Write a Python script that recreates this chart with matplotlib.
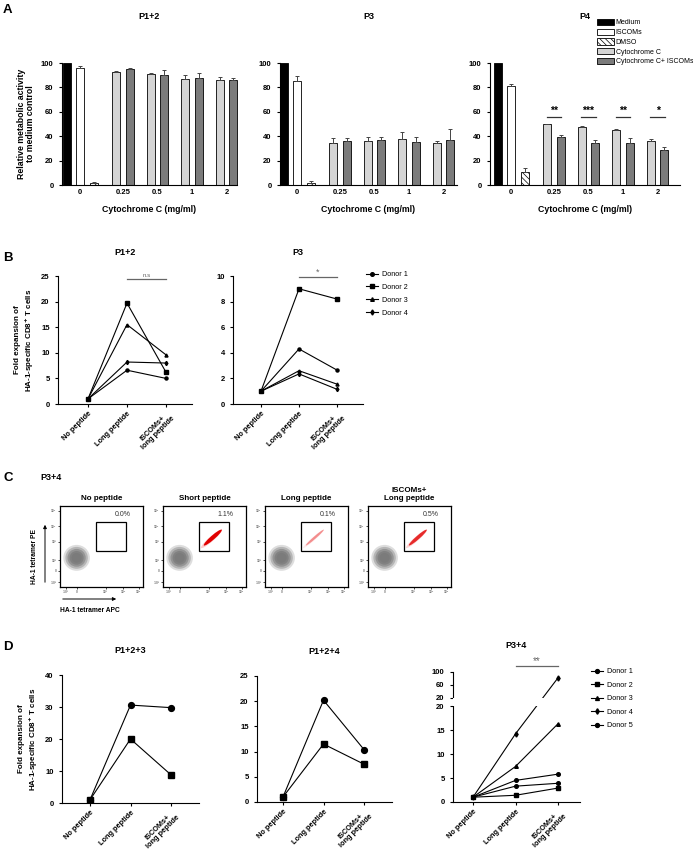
import matplotlib

matplotlib.use("Agg")
import matplotlib.pyplot as plt
import matplotlib.transforms as mtransforms
import numpy as np
from matplotlib.lines import Line2D
from matplotlib.patches import Ellipse, Patch, Rectangle

W, H = 693, 849

# ---- panel A: metabolic activity (mean, upward SEM) ----
A_TITLES = ["P1+2", "P3", "P4"]
A_DOSES = ["0", "0.25", "0.5", "1", "2"]
A_CTRL_NAMES = ["Medium", "ISCOMs", "DMSO"]
A_CTRL = [[100, 95.5, 2.0], [100, 85.5, 2.0], [100, 81.5, 10.4]]
A_CTRL_ERR = [[0, 2.0, 0.8], [0, 4.0, 1.0], [0, 1.0, 3.3]]
A_CYTO = [[93.0, 90.6, 86.6, 86.2], [34.8, 36.4, 37.6, 34.8], [49.6, 47.2, 44.9, 35.8]]
A_CYTO_ERR = [[0.5, 1.0, 3.5, 2.0], [3.5, 3.0, 5.5, 1.6], [0.5, 1.5, 0.7, 1.6]]
A_CYTO_ISC = [[95.3, 90.0, 87.7, 86.2], [35.8, 36.9, 35.2, 36.9], [39.4, 34.7, 34.7, 28.4]]
A_CYTO_ISC_ERR = [[1.0, 4.5, 4.2, 1.5], [2.5, 2.8, 4.5, 9.0], [1.3, 2.0, 3.8, 2.7]]
A_P4_STARS = ["**", "***", "**", "*"]

# ---- panel B: fold expansion per donor ----
CATS = ["No peptide", "Long peptide", "ISCOMs+\nlong peptide"]
B_DONORS = ["Donor 1", "Donor 2", "Donor 3", "Donor 4"]
B_P12 = [[1, 6.6, 5.0], [1, 19.7, 6.2], [1, 15.5, 9.6], [1, 8.2, 8.0]]
B_P3 = [[1, 4.3, 2.65], [1, 9.0, 8.2], [1, 2.6, 1.55], [1, 2.35, 1.15]]

# ---- panel C: tetramer staining ----
C_TITLES = ["No peptide", "Short peptide", "Long peptide", "ISCOMs+\nLong peptide"]
C_PERCENT = [0.0, 1.1, 0.1, 0.5]

# ---- panel D ----
D_P123 = [[1, 30.6, 29.8], [1, 20.0, 8.8]]
D_P124 = [[1, 20.2, 10.4], [1, 11.5, 7.5]]
D_DONORS = ["Donor 1", "Donor 2", "Donor 3", "Donor 4", "Donor 5"]
D_P34 = [[1, 4.5, 5.8], [1, 1.4, 2.9], [1, 7.4, 16.3], [1, 14.2, 82.0], [1, 3.3, 3.9]]

plt.rcParams.update(
    {
        "font.family": ["Liberation Sans", "DejaVu Sans"],
        "font.weight": "bold",
        "axes.labelweight": "bold",
        "axes.linewidth": 0.8,
        "xtick.major.width": 0.8,
        "ytick.major.width": 0.8,
        "xtick.major.size": 2.5,
        "ytick.major.size": 2.5,
        "xtick.labelsize": 5.5,
        "ytick.labelsize": 5.5,
        "hatch.linewidth": 0.5,
    }
)

fig = plt.figure(figsize=(W / 100, H / 100), dpi=100)


def px_axes(x0, y0, x1, y1):
    return fig.add_axes([x0 / W, 1 - y1 / H, (x1 - x0) / W, (y1 - y0) / H])


def ftext(x, y, s, **kw):
    fig.text(x / W, 1 - y / H, s, **kw)


def clean(ax):
    ax.spines["top"].set_visible(False)
    ax.spines["right"].set_visible(False)


# ================= A =================
ftext(3, 10, "A", fontsize=9.5, ha="left", va="center")
a_boxes = [(62, 63, 237, 185), (280, 63, 457, 185), (490, 63, 680, 185)]
a_first = [67, 284, 498]
step = 13.3
ctrl_x = np.array([0, 1, 2])
pair_x = np.array([3.7 + 2.6 * k for k in range(4)])
bw = 0.6
err_kw = dict(ecolor="#444444", elinewidth=0.7, capsize=1.6, capthick=0.7)
for i, box in enumerate(a_boxes):
    ax = px_axes(*box)
    clean(ax)
    styles = [
        dict(color="black", edgecolor="black"),
        dict(color="white", edgecolor="black"),
        dict(color="white", edgecolor="black", hatch="\\\\\\\\\\\\"),
    ]
    for j in range(3):
        ax.bar(ctrl_x[j], A_CTRL[i][j], bw, linewidth=0.6,
               yerr=[[0], [A_CTRL_ERR[i][j]]] if A_CTRL_ERR[i][j] else None,
               error_kw=err_kw, **styles[j])
    ax.bar(pair_x, A_CYTO[i], bw, color="#d4d4d4", edgecolor="black", linewidth=0.6,
           yerr=[[0] * 4, A_CYTO_ERR[i]], error_kw=err_kw)
    ax.bar(pair_x + 1, A_CYTO_ISC[i], bw, color="#7b7b7b", edgecolor="black", linewidth=0.6,
           yerr=[[0] * 4, A_CYTO_ISC_ERR[i]], error_kw=err_kw)
    ax.set_ylim(0, 100)
    x0, _, x1, _ = box
    ax.set_xlim((x0 - a_first[i]) / step, (x1 - a_first[i]) / step)
    ax.set_yticks(range(0, 101, 20))
    ax.set_xticks([1] + list(pair_x + 0.5), A_DOSES)
    ax.tick_params(axis="x", length=0, pad=3)
    ax.set_xlabel("Cytochrome C (mg/ml)", fontsize=6.3, labelpad=6)
    ax.set_title(A_TITLES[i], fontsize=6.5, fontweight="bold", pad=32)
    if i == 0:
        ax.set_ylabel("Relative metabolic activity\nto medium control", fontsize=6.3, labelpad=4,
                      linespacing=1.1)
    if i == 2:
        for k, stars in enumerate(A_P4_STARS):
            ax.plot([pair_x[k] - 0.05, pair_x[k] + 1.05], [56, 56], color="#333333", lw=0.9)
            ax.text(pair_x[k] + 0.5, 57.0, stars, ha="center", va="bottom", fontsize=7.5)
    for c in ax.get_children():
        try:
            c.set_clip_on(False)
        except Exception:
            pass

a_handles = [
    Patch(facecolor="black", edgecolor="black", linewidth=0.6),
    Patch(facecolor="white", edgecolor="black", linewidth=0.6),
    Patch(facecolor="white", edgecolor="black", hatch="\\\\\\\\\\\\", linewidth=0.6),
    Patch(facecolor="#d4d4d4", edgecolor="black", linewidth=0.6),
    Patch(facecolor="#7b7b7b", edgecolor="black", linewidth=0.6),
]
fig.legend(a_handles, A_CTRL_NAMES + ["Cytochrome C", "Cytochrome C+ ISCOMs"],
           loc="upper left", bbox_to_anchor=(597 / W, 1 - 19 / H), frameon=False,
           prop={"size": 5, "weight": "normal"}, handlelength=2.4, handleheight=1.0,
           labelspacing=0.32, handletextpad=0.3, borderpad=0, borderaxespad=0)


def fold_axes(box, first, stp, ymax, yticks):
    ax = px_axes(*box)
    clean(ax)
    x0, _, x1, _ = box
    ax.set_xlim((x0 - first) / stp, (x1 - first) / stp)
    ax.set_ylim(0, ymax)
    ax.set_yticks(yticks)
    ax.set_xticks(range(3))
    ax.set_xticklabels(CATS, rotation=45, ha="right", rotation_mode="anchor",
                       fontsize=5.3, multialignment="center", linespacing=1.0)
    ax.tick_params(axis="x", pad=2)
    return ax


B_MARKERS = ["o", "s", "^", "d"]
D_MARKERS = ["o", "s", "^", "d", "o"]
ylab = "Fold expansion of\nHA-1-specific CD8$^{+}$ T cells"

# ================= B =================
ftext(3, 258, "B", fontsize=9.5, ha="left", va="center")
ax = fold_axes((58, 276, 192, 404), 88, 39, 25, range(0, 26, 5))
for vals, m in zip(B_P12, B_MARKERS):
    ax.plot(range(3), vals, color="black", lw=0.8, marker=m, ms=2.2)
ax.set_title("P1+2", fontsize=6.5, fontweight="bold", pad=15)
ax.set_ylabel(ylab, fontsize=5.8, labelpad=4, linespacing=1.1)
ax.plot([1, 2], [24.4, 24.4], color="#666666", lw=0.9, clip_on=False)
ax.text(1.5, 24.7, "n.s", ha="center", va="bottom", fontsize=4.5, color="#666666",
        fontweight="normal")

ax = fold_axes((233, 276, 363, 404), 261, 38, 10, range(0, 11, 2))
for vals, m in zip(B_P3, B_MARKERS):
    ax.plot(range(3), vals, color="black", lw=0.8, marker=m, ms=2.2)
ax.set_title("P3", fontsize=6.5, fontweight="bold", pad=15)
ax.plot([1, 2], [9.92, 9.92], color="#666666", lw=0.9, clip_on=False)
ax.text(1.5, 9.98, "*", ha="center", va="bottom", fontsize=6.5, color="#666666",
        fontweight="normal")

b_handles = [Line2D([], [], color="black", lw=0.8, marker=m, ms=2.6) for m in B_MARKERS]
fig.legend(b_handles, B_DONORS, loc="upper left", bbox_to_anchor=(366 / W, 1 - 271 / H),
           frameon=False, prop={"size": 5.2, "weight": "normal"}, handlelength=1.6,
           labelspacing=0.8, handletextpad=0.6, borderpad=0, borderaxespad=0)

# ================= C =================
ftext(3, 478, "C", fontsize=9.5, ha="left", va="center")
ftext(40, 478, "P3+4", fontsize=6.5, ha="left", va="center")
c_left = [60, 163, 265, 368]
for i, xl in enumerate(c_left):
    ax = px_axes(xl, 506, xl + 83, 587)
    ax.set_xlim(0, 1)
    ax.set_ylim(0, 1)
    for sp in ax.spines.values():
        sp.set_linewidth(0.9)
    ax.set_xticks([0.07, 0.2, 0.55, 0.76, 0.95], ["-10³", "0", "10³", "10⁴", "10⁵"])
    ax.set_yticks([0.06, 0.2, 0.33, 0.56, 0.75, 0.94],
                  ["-10²", "0", "10²", "10³", "10⁴", "10⁵"])
    ax.tick_params(length=1.5, width=0.5, labelsize=2.3, labelcolor="#777777", pad=1)
    for k in range(5):
        ax.add_patch(Ellipse((0.2, 0.36), 0.32 - 0.05 * k, 0.32 - 0.05 * k,
                             color="#7a7a7a", alpha=0.25 + 0.15 * k, lw=0))
    ax.add_patch(Rectangle((0.43, 0.44), 0.37, 0.36, fill=False, lw=0.9, ec="black"))
    pct = C_PERCENT[i]
    if pct > 0:
        strength = min(1.0, 0.3 + pct)
        ax.add_patch(Ellipse((0.585, 0.595), 0.34, 0.03 + 0.03 * strength, angle=42,
                             color="#ff9a9a", alpha=0.5 * strength, lw=0))
        ax.add_patch(Ellipse((0.6, 0.61), 0.29, 0.015 + 0.035 * strength, angle=42,
                             color="#e00000", alpha=strength, lw=0))
    ax.text(0.85, 0.9, f"{pct:.1f}%", ha="right", va="center", fontsize=5,
            fontweight="normal", color="#333333")
    ax.set_title(C_TITLES[i], fontsize=5.8, fontweight="bold", pad=4, linespacing=1.2)

fig.text(35 / W, 1 - 557 / H, "HA-1 tetramer PE", rotation=90, ha="center", va="center",
         fontsize=4.8)
fig.text(60 / W, 1 - 610 / H, "HA-1 tetramer APC", ha="left", va="center", fontsize=4.8)
fig.add_artist(matplotlib.patches.FancyArrowPatch(
    (45 / W, 1 - 585 / H), (45 / W, 1 - 522 / H), transform=fig.transFigure,
    arrowstyle="-|>", mutation_scale=5, lw=0.7, color="black"))
fig.add_artist(matplotlib.patches.FancyArrowPatch(
    (60 / W, 1 - 599 / H), (119 / W, 1 - 599 / H), transform=fig.transFigure,
    arrowstyle="-|>", mutation_scale=5, lw=0.7, color="black"))

# ================= D =================
ftext(3, 647, "D", fontsize=9.5, ha="left", va="center")
ax = fold_axes((62, 675, 199, 803), 90, 40.5, 40, range(0, 41, 10))
for vals, m in zip(D_P123, ["o", "s"]):
    ax.plot(range(3), vals, color="black", lw=0.8, marker=m, ms=4.2)
ax.set_title("P1+2+3", fontsize=6.5, fontweight="bold", pad=16)
ax.set_ylabel(ylab, fontsize=5.8, labelpad=4, linespacing=1.1)

ax = fold_axes((257, 676, 392, 802), 283, 40.5, 25, range(0, 26, 5))
for vals, m in zip(D_P124, ["o", "s"]):
    ax.plot(range(3), vals, color="black", lw=0.8, marker=m, ms=4.2)
ax.set_title("P1+2+4", fontsize=6.5, fontweight="bold", pad=16)

# broken y axis: 0-20 linear, then 20-100 compressed
GAP, K = 1.67, 0.0677


def fwd(v):
    v = np.asarray(v, dtype=float)
    return np.where(v <= 20, v, 20 + GAP + (v - 20) * K)


def inv(u):
    u = np.asarray(u, dtype=float)
    return np.where(u <= 20, u, np.where(u < 20 + GAP, 20, 20 + (u - 20 - GAP) / K))


ax = px_axes(453, 672, 580, 802)
clean(ax)
ax.set_yscale("function", functions=(fwd, inv))
ax.set_xlim((453 - 473) / 42.5, (580 - 473) / 42.5)
ax.set_ylim(0, 100)
ax.set_yticks([0, 5, 10, 15, 20, 20.001, 60, 100], ["0", "5", "10", "15", "20", "20", "60", "100"])
ax.yaxis.set_minor_locator(matplotlib.ticker.NullLocator())
ax.set_xticks(range(3))
ax.set_xticklabels(CATS, rotation=45, ha="right", rotation_mode="anchor", fontsize=5.3,
                   multialignment="center", linespacing=1.0)
ax.tick_params(axis="x", pad=2)
ax.spines["left"].set_visible(False)
blend = mtransforms.blended_transform_factory(ax.transAxes, ax.transData)
ax.plot([0, 0], [0, 20], color="black", lw=0.8, transform=blend, clip_on=False)
ax.plot([0, 0], [20.001, 100], color="black", lw=0.8, transform=blend, clip_on=False)
for vals, m in zip(D_P34, D_MARKERS):
    ax.plot(range(3), vals, color="black", lw=0.8, marker=m, ms=2.6, zorder=2)
ax.axhspan(20, 20.001, color="white", lw=0, zorder=2.5)
ax.set_title("P3+4", fontsize=6.5, fontweight="bold", pad=17)
sig = mtransforms.blended_transform_factory(ax.transData, ax.transAxes)
ax.plot([1, 2], [1.045, 1.045], color="#666666", lw=0.9, transform=sig, clip_on=False)
ax.text(1.5, 1.045, "**", ha="center", va="bottom", fontsize=7, color="#666666",
        fontweight="normal", transform=sig)

d_handles = [Line2D([], [], color="black", lw=0.8, marker=m, ms=2.8) for m in D_MARKERS]
fig.legend(d_handles, D_DONORS, loc="upper left", bbox_to_anchor=(591 / W, 1 - 668 / H),
           frameon=False, prop={"size": 5.2, "weight": "normal"}, handlelength=1.6,
           labelspacing=0.9, handletextpad=0.6, borderpad=0, borderaxespad=0)

fig.savefig("out.png", dpi=100)
